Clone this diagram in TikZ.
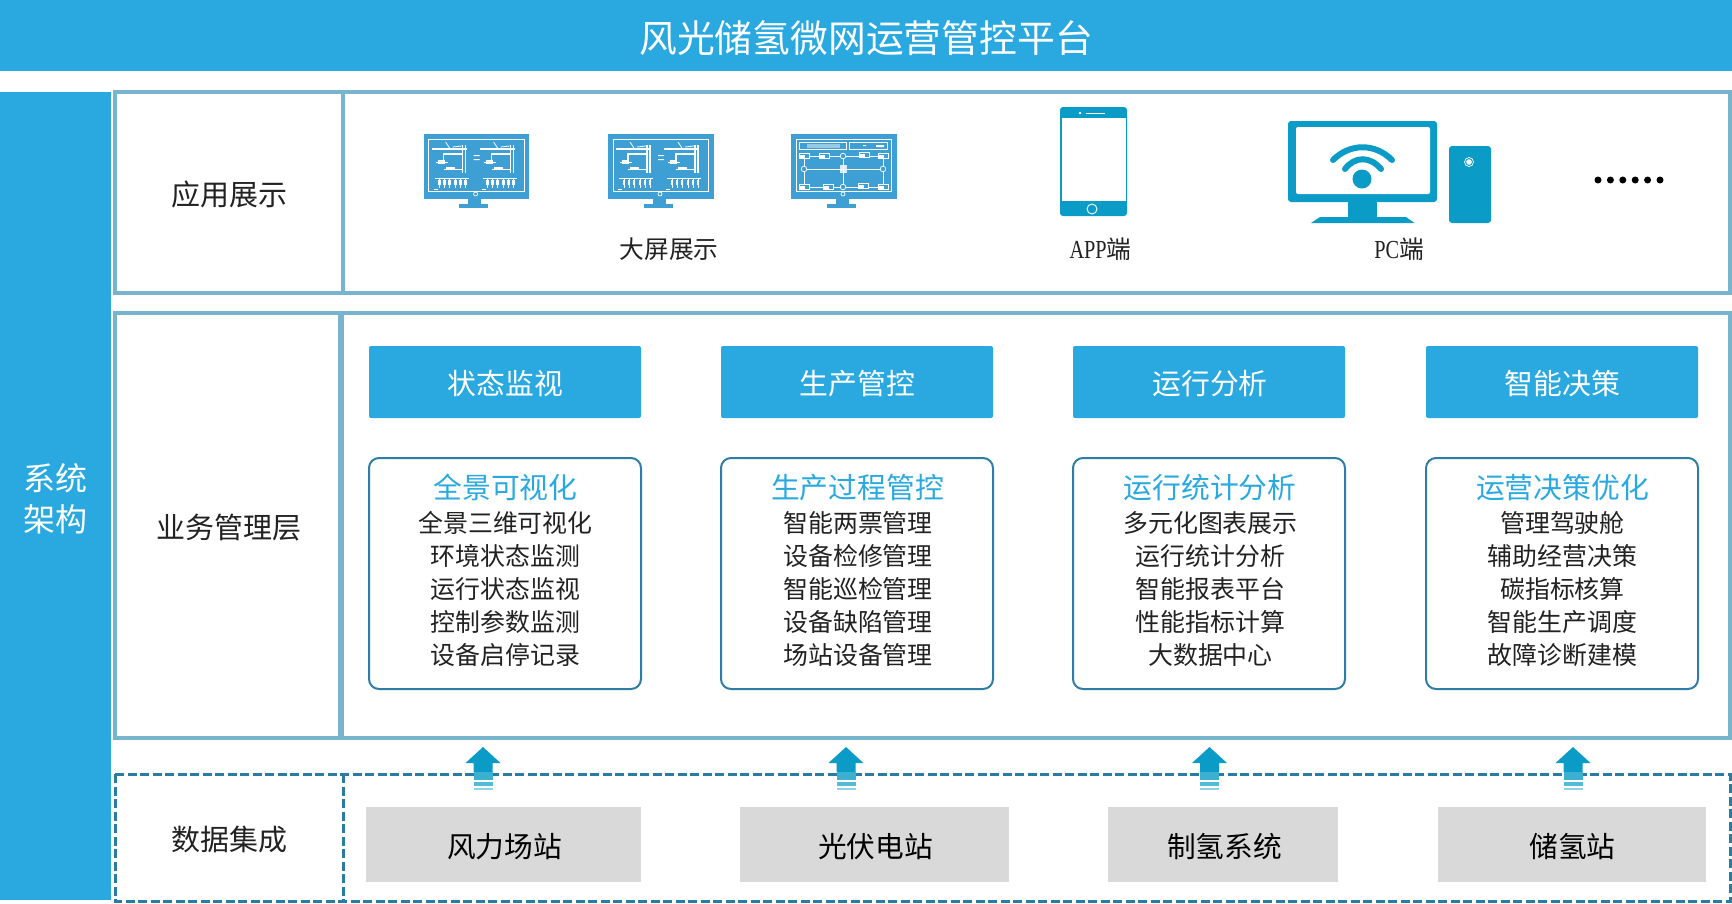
\documentclass[tikz,border=0pt]{standalone}
\usepackage{fontspec}
\setmainfont{Noto Sans CJK SC}
\newfontfamily\latinnarrow[FakeStretch=0.78]{Liberation Serif}
\usetikzlibrary{positioning}

\definecolor{barblue}{HTML}{29A9E0}
\definecolor{frameblue}{HTML}{78B4CE}
\definecolor{dashblue}{HTML}{2A7CA3}
\definecolor{iconblue}{HTML}{0A9CC6}
\definecolor{screenblue}{HTML}{3E9FD5}
\definecolor{cardline}{HTML}{2F7CA6}
\definecolor{greybox}{HTML}{D9D9D9}
\definecolor{inktext}{HTML}{222222}

\newcommand{\fsize}[1]{\fontsize{#1}{#1}\selectfont}

\tikzset{
	frameline/.style={draw=frameblue,line width=4pt},
	dashline/.style={draw=dashblue,line width=3pt,dash pattern=on 9pt off 3.5pt},
	layertext/.style={text=inktext,font=\fsize{29}},
	headbox/.style={fill=barblue,rounded corners=2pt,minimum width=272pt,minimum height=72pt},
	headtext/.style={text=white,font=\fsize{28.8}},
	cardbox/.style={draw=cardline,line width=2pt,rounded corners=10pt,minimum width=272pt,minimum height=231pt},
	cardtitle/.style={text=barblue,font=\fsize{28.8}},
	cardlist/.style={text=inktext,align=center,font=\fontsize{24.9}{33}\selectfont},
	sourcebox/.style={fill=greybox,minimum height=75pt},
	sourcetext/.style={text=black,font=\fsize{28.7}},
	whiteline/.style={draw=white,line width=0.8pt}
}

% monitor body with foot, screen details come after it
\newcommand{\bigscreen}[1]{
	\fill[screenblue] (#1,134) rectangle ++(105.5,65);
	\fill[screenblue] (#1+44.5,199) rectangle ++(13,5);
	\fill[screenblue] (#1+35.5,204) rectangle ++(29,4);
	\draw[white,line width=0.6pt] (#1+5,139) rectangle ++(95.5,52);
	\draw[white,line width=0.7pt] (#1+52,194) circle (2pt);
}

% one half of the wiring picture
\newcommand{\wiringhalf}[1]{
	\begin{scope}[shift={(#1,134)}]
		\draw[whiteline,line width=1.1pt] (8,15) -- (43,15);
		\draw[whiteline] (22,8) -- (26,14) (29,13) -- (38,12);
		\draw[whiteline,line width=1.1pt] (39,11) -- (39,39) (42,11) -- (42,39);
		\draw[whiteline,line width=1.1pt] (20,29) -- (20,20) -- (39,20);
		\fill[white] (14,26) rectangle ++(7,3.5);
		\fill[white] (22,33) rectangle ++(9,3);
		\draw[white,line width=0.6pt] (12,28) -- (24,28) (20,35) -- (39,35);
		\draw[whiteline,line width=0.6pt] (11,44) -- (45,44);
		\foreach \px in {16,21,26,32,37,42}{
			\fill[white] (\px-1.2,46) rectangle ++(2.4,5);
			\draw[white,line width=0.3pt] (\px,44) -- (\px,46) (\px,51) -- (\px,54);
		}
		\draw[white,line width=0.5pt] (10,55) -- (14,55);
	\end{scope}
}

\newcommand{\wiringscreen}[1]{
	\bigscreen{#1}
	\wiringhalf{#1}
	\wiringhalf{#1+48}
	\fill[white] (#1+50,155) rectangle ++(6,1.2) (#1+50,159) rectangle ++(6,1.2);
}

\begin{document}
\begin{tikzpicture}[x=1pt,y=-1pt]
	\useasboundingbox (0,0) rectangle (1732,903);
	\fill[white] (0,0) rectangle (1732,903);

	% title and side bar
	\fill[barblue] (0,0) rectangle (1732,71);
	\node[text=white,font=\fsize{37.8}] (title) at (866,38.5) {风光储氢微网运营管控平台};
	\fill[barblue] (0,92) rectangle (110.5,900);
	\node[text=white,align=center,font=\fontsize{32}{41}\selectfont] (sidelabel) at (55.5,499) {系统\\架构};

	% the three layers
	\draw[frameline] (115,92) rectangle (1730,293);
	\draw[frameline] (343,92) -- (343,293);
	\draw[frameline] (115,313) rectangle (1730,738);
	\draw[frameline,line width=5.5pt] (341,313) -- (341,738);
	\draw[dashline] (115,774) rectangle (1730,901);
	\draw[dashline] (343.5,774) -- (343.5,901);

	\node[layertext] (applabel) at (229,194.5) {应用展示};
	\node[layertext] (bizlabel) at (229,528) {业务管理层};
	\node[layertext] (datalabel) at (229.5,840) {数据集成};

	% big screens
	\wiringscreen{423.6}
	\wiringscreen{608}
	\bigscreen{791}
	\begin{scope}[shift={(791,134)}]
		\draw[white,line width=0.7pt] (8,8) rectangle (55,15) (58,8) rectangle (96,15);
		\fill[white,opacity=0.45] (16,9.5) rectangle (49,14);
		\fill[white] (72,11) rectangle ++(3,1) (85,11) rectangle ++(8,2);
		\draw[white,line width=0.7pt] (13,22) -- (92,22) -- (92,53) -- (13,53) -- cycle;
		\draw[white,line width=0.7pt] (13,35) -- (92,35) (52,22) -- (52,53);
		\foreach \nx/\ny in {13/35,92/35,52/22,52/53}{
			\filldraw[fill=screenblue,draw=white,line width=0.7pt] (\nx,\ny) circle (2.8pt);
		}
		\foreach \nx/\ny in {13/22,33/22,73/21,92/22,13/53,37/53,72/52,92/53}{
			\filldraw[fill=screenblue,draw=white,line width=0.6pt] (\nx-5,\ny-2.5) rectangle ++(10,5);
			\fill[white] (\nx-4,\ny-1.5) rectangle ++(4.5,3);
		}
		\fill[white,opacity=0.8] (48.5,31) rectangle ++(7,8);
	\end{scope}
	\node[text=inktext,font=\fsize{24.7}] (screenlabel) at (669,249.5) {大屏展示};

	% phone
	\fill[iconblue,rounded corners=3pt] (1060,107) rectangle (1127,216);
	\fill[white] (1062,118) rectangle (1125.5,200.5);
	\fill[white] (1080,113) circle (1.3pt);
	\draw[white,line width=0.8pt] (1086,113) -- (1105,113);
	\draw[white,line width=0.9pt] (1092,209) circle (5pt);
	\node[text=inktext,font=\fsize{24.7}] (appname) at (1100.5,249.5) {{\latinnarrow\fontsize{26}{26}\selectfont APP}端};

	% desktop computer
	\fill[iconblue,rounded corners=3pt] (1288,121) rectangle (1437,202);
	\fill[white,rounded corners=2pt] (1296,127) rectangle (1430,194);
	\fill[iconblue] (1348,202) rectangle (1377,217);
	\fill[iconblue] (1320,217) -- (1406,217) -- (1414.5,223) -- (1311,223) -- cycle;
	\fill[iconblue,rounded corners=3pt] (1449,146) rectangle (1491,223);
	\draw[white,line width=0.7pt] (1469,162) circle (4.5pt);
	\fill[white] (1469,162) circle (2.8pt);
	\fill[iconblue] (1362,179) circle (9.5pt);
	\draw[iconblue,line width=6pt,line cap=round] (1345,169) .. controls (1355,156) and (1370,156) .. (1381,169);
	\draw[iconblue,line width=6pt,line cap=round] (1333,160) .. controls (1350,143) and (1375,143) .. (1392,160);
	\node[text=inktext,font=\fsize{24.7}] (pcname) at (1399,249.5) {{\latinnarrow\fontsize{26}{26}\selectfont PC}端};

	\foreach \dx in {0,...,5}{
		\fill[black] (1598+12.4*\dx,180) circle (3.5pt);
	}

	% four columns of the business layer
	\node[headbox] (headA) at (505,382) {};
	\node[headbox] (headB) at (857,382) {};
	\node[headbox] (headC) at (1209,382) {};
	\node[headbox] (headD) at (1562,382) {};
	\node[headtext] (nameA) at (505.5,384) {状态监视};
	\node[headtext] (nameB) at (857.5,384) {生产管控};
	\node[headtext] (nameC) at (1210,384) {运行分析};
	\node[headtext] (nameD) at (1562.5,384) {智能决策};

	\node[cardbox] (cardA) at (505,573.5) {};
	\node[cardbox] (cardB) at (857,573.5) {};
	\node[cardbox] (cardC) at (1209,573.5) {};
	\node[cardbox] (cardD) at (1562,573.5) {};

	\node[cardtitle] (titleA) at (505.5,487.5) {全景可视化};
	\node[cardtitle] (titleB) at (857.5,487.5) {生产过程管控};
	\node[cardtitle] (titleC) at (1210,487.5) {运行统计分析};
	\node[cardtitle] (titleD) at (1562.5,487.5) {运营决策优化};

	\node[cardlist] (listA) at (505.5,589) {全景三维可视化\\环境状态监测\\运行状态监视\\控制参数监测\\设备启停记录};
	\node[cardlist] (listB) at (858,589) {智能两票管理\\设备检修管理\\智能巡检管理\\设备缺陷管理\\场站设备管理};
	\node[cardlist] (listC) at (1210.5,589) {多元化图表展示\\运行统计分析\\智能报表平台\\性能指标计算\\大数据中心};
	\node[cardlist] (listD) at (1562.5,589) {管理驾驶舱\\辅助经营决策\\碳指标核算\\智能生产调度\\故障诊断建模};

	% upward arrows
	\foreach \ax in {483,846,1209.5,1573}{
		\fill[iconblue] (\ax,747) -- (\ax+17.5,763) -- (\ax+9.5,763) -- (\ax+9.5,772) -- (\ax-9.5,772) -- (\ax-9.5,763) -- (\ax-17.5,763) -- cycle;
		\fill[iconblue!80!white] (\ax-9.5,772) rectangle (\ax+9.5,780);
		\fill[iconblue!70!white] (\ax-9.5,782) rectangle (\ax+9.5,786);
		\fill[iconblue!45!white] (\ax-9.5,788) rectangle (\ax+9.5,790);
	}

	% data sources
	\node[sourcebox,minimum width=275pt] (windsite) at (503.5,844.5) {};
	\node[sourcebox,minimum width=268.5pt] (solarsite) at (874.25,844.5) {};
	\node[sourcebox,minimum width=230pt] (h2system) at (1223,844.5) {};
	\node[sourcebox,minimum width=268pt] (h2store) at (1572,844.5) {};
	\node[sourcetext] (windname) at (504.5,847) {风力场站};
	\node[sourcetext] (solarname) at (875.5,847) {光伏电站};
	\node[sourcetext] (h2sysname) at (1224.5,847) {制氢系统};
	\node[sourcetext] (h2storename) at (1572.5,847) {储氢站};
\end{tikzpicture}
\end{document}
